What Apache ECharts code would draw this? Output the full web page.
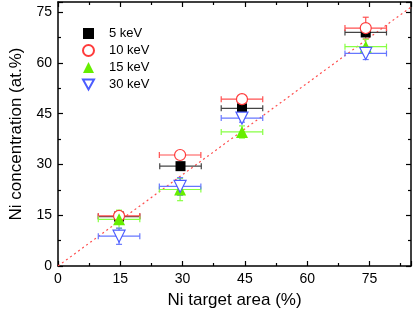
<!DOCTYPE html>
<html><head><meta charset="utf-8">
<script src="https://cdn.jsdelivr.net/npm/echarts@6/dist/echarts.min.js"></script>
<style>html,body{margin:0;padding:0;background:#fff}#c{width:414px;height:315px}</style>
</head><body><div id="c"></div>
<script>
// Data: [x, y, xErr, yErr]
const names = ['5 keV', '10 keV', '15 keV', '30 keV'];
const kev5  = [[14.7,14.6,5,0.6],[29.5,29.5,5,0.6],[44.3,46.6,5,1.0],[74.1,69.0,5,1.0]];
const kev10 = [[14.7,14.8,5,0.8],[29.4,32.8,5,0.7],[44.3,49.3,5,0.8],[74.1,70.3,5,3.2]];
const kev15 = [[14.7,13.8,5,2.7],[29.4,22.6,5,3.3],[44.3,39.6,5,1.8],[74.1,64.8,5,2.2]];
const kev30 = [[14.7,8.8,5,2.4],[29.4,23.5,5,2.6],[44.3,43.7,5,1.2],[74.1,62.8,5,1.8]];
const refLine = [[0,0],[85,76.5]];
const xTicks = [0,15,30,45,60,75];
const yTicks = [0,15,30,45,60,75];

const FONT = '"Liberation Sans", Arial, sans-serif';
const sets = [kev5, kev10, kev15, kev30];
const colors = ['#000000', '#ff3b3b', '#66ee00', '#4b5cff'];
const barColors = ['#444444', '#ff5050', '#88ff44', '#6677ff'];
const fills = ['#000000', '#ffffff', '#66ee00', '#ffffff'];
const symbols = ['rect', 'circle', 'triangle', 'path://M0,0 L10,0 L5,9 Z'];
const sizes = [10, 11, 12, 12];

function errRender(color){
  return function(params, api){
    const x = api.value(0), y = api.value(1), dx = api.value(2), dy = api.value(3);
    const l = api.coord([x-dx, y]), r = api.coord([x+dx, y]);
    const t = api.coord([x, y+dy]), b = api.coord([x, y-dy]);
    const cap = 3;
    const st = {stroke: color, lineWidth: 1.2};
    return {type:'group', children:[
      {type:'line', shape:{x1:l[0],y1:l[1],x2:r[0],y2:r[1]}, style:st},
      {type:'line', shape:{x1:l[0],y1:l[1]-cap,x2:l[0],y2:l[1]+cap}, style:st},
      {type:'line', shape:{x1:r[0],y1:r[1]-cap,x2:r[0],y2:r[1]+cap}, style:st},
      {type:'line', shape:{x1:t[0],y1:t[1],x2:b[0],y2:b[1]}, style:st},
      {type:'line', shape:{x1:t[0]-cap,y1:t[1],x2:t[0]+cap,y2:t[1]}, style:st},
      {type:'line', shape:{x1:b[0]-cap,y1:b[1],x2:b[0]+cap,y2:b[1]}, style:st}
    ]};
  };
}

const series = [];
series.push({type:'line', data: refLine, symbol:'none', silent:true,
  lineStyle:{color:'#ff4d4d', type:[2,3], width:1.2}, z:1});
sets.forEach((d,i)=>{
  series.push({type:'custom', name:names[i]+'_err', renderItem: errRender(barColors[i]),
    data:d, z:2, silent:true});
});
sets.forEach((d,i)=>{
  series.push({type:'scatter', name:names[i], data:d.map(p=>[p[0],p[1]]),
    symbol:symbols[i], symbolSize:sizes[i], z:3,
    itemStyle:{color:fills[i], borderColor:colors[i], borderWidth: (i===1||i===3)?1.2:0, opacity:1}});
});

const axisCommon = {
  min:0, interval:15,
  axisLine:{show:true, onZero:false, lineStyle:{color:'#000', width:1.5}},
  axisTick:{show:true, inside:true, length:5, lineStyle:{color:'#000', width:1.2}},
  minorTick:{show:true, splitNumber:2, length:3, lineStyle:{color:'#000', width:1.2}},
  splitLine:{show:false},
};

const chart = echarts.init(document.getElementById('c'), null, {renderer:'canvas'});
chart.setOption({
  backgroundColor:'#fff',
  animation:false,
  grid:{left:56, right:2, top:2, bottom:49, containLabel:false},
  legend:{
    data: names.map((n,i)=>({name:n, icon:symbols[i]})),
    orient:'vertical', left:77, top:22, itemWidth:11, itemHeight:11, itemGap:4,
    textStyle:{fontFamily:FONT, fontSize:13, color:'#000', padding:[0,0,0,10]},
    selectedMode:false
  },
  xAxis:[
    Object.assign({type:'value', max:85, position:'bottom',
      name:'Ni target area (%)', nameLocation:'middle', nameGap:26,
      nameTextStyle:{fontFamily:FONT, fontSize:17, color:'#000'},
      axisLabel:{fontFamily:FONT, fontSize:14, color:'#000', margin:6,
        formatter:v=>xTicks.includes(v)?String(v):''}}, axisCommon),
    Object.assign({type:'value', max:85, position:'top', axisLabel:{show:false}}, axisCommon)
  ],
  yAxis:[
    Object.assign({type:'value', max:78, position:'left',
      name:'Ni concentration (at.%)', nameLocation:'middle', nameGap:33,
      nameTextStyle:{fontFamily:FONT, fontSize:17, color:'#000'},
      axisLabel:{fontFamily:FONT, fontSize:14, color:'#000', margin:6,
        formatter:v=>yTicks.includes(v)?String(v):''}}, axisCommon),
    Object.assign({type:'value', max:78, position:'right', axisLabel:{show:false}}, axisCommon)
  ],
  series: series
});
</script></body></html>
